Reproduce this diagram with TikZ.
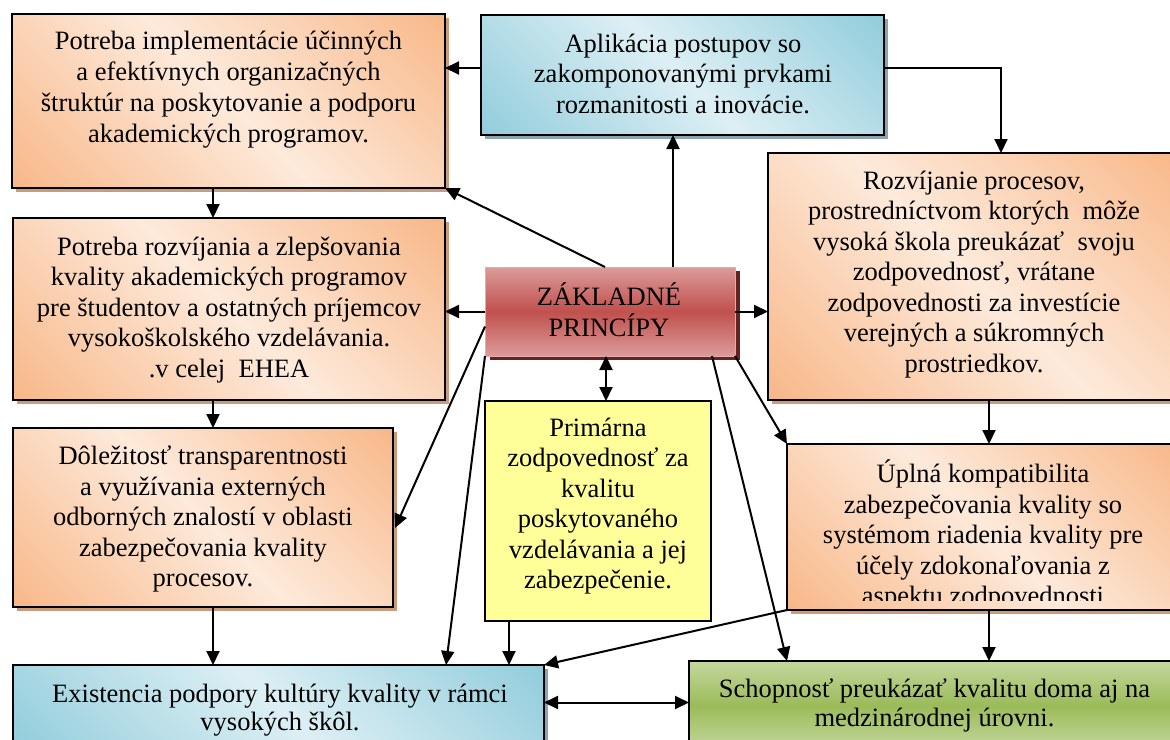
\documentclass[tikz,border=0pt]{standalone}
\usepackage{fontspec}
\setmainfont{Liberation Serif}
\usetikzlibrary{arrows.meta,shadows,calc}

% fill colours
\definecolor{orD}{HTML}{F8B889}
\definecolor{orL}{HTML}{FDEADB}
\definecolor{orS}{HTML}{C99C7E}
\definecolor{blD}{HTML}{92CDDC}
\definecolor{blL}{HTML}{DDEFF4}
\definecolor{blS}{HTML}{8AA5AF}
\definecolor{rdD}{HTML}{C0504D}
\definecolor{rdL}{HTML}{DB9C9A}
\definecolor{rdB}{HTML}{E3ABAA}
\definecolor{rdS}{HTML}{652324}
\definecolor{grD}{HTML}{9BBB59}
\definecolor{grL}{HTML}{C4D79E}
\definecolor{yl}{HTML}{FFFF99}

% diagonal two-sided gradients and horizontal bands
\pgfdeclarehorizontalshading{orDiag}{100bp}{color(0bp)=(orD); color(15bp)=(orD); color(50bp)=(orL); color(85bp)=(orD); color(100bp)=(orD)}
\pgfdeclarehorizontalshading{blDiag}{100bp}{color(0bp)=(blD); color(15bp)=(blD); color(50bp)=(blL); color(85bp)=(blD); color(100bp)=(blD)}
\pgfdeclareverticalshading{rdBand}{100bp}{color(0bp)=(rdL); color(25bp)=(rdL); color(50bp)=(rdD); color(75bp)=(rdL); color(100bp)=(rdL)}
\pgfdeclareverticalshading{grBand}{100bp}{color(0bp)=(grL); color(25bp)=(grL); color(50bp)=(grD); color(75bp)=(grL); color(100bp)=(grL)}

\begin{document}
\begin{tikzpicture}[x=1bp, y=-1bp,
  box/.style={rectangle, inner sep=0, outer sep=0, anchor=north west, line width=2.4bp, draw=black},
  orbox/.style={box, shade, shading=orDiag, shading angle=45,
    drop shadow={shadow xshift=4bp, shadow yshift=-4bp, fill=orS, opacity=1}},
  blbox/.style={box, shade, shading=blDiag, shading angle=45,
    drop shadow={shadow xshift=4bp, shadow yshift=-4bp, fill=blS, opacity=1}},
  rdbox/.style={box, line width=1bp, draw=rdB, shade, shading=rdBand,
    drop shadow={shadow xshift=5bp, shadow yshift=-4bp, fill=rdS, opacity=1}},
  ylbox/.style={box, fill=yl},
  grbox/.style={box, shade, shading=grBand},
  txt/.style={inner sep=0, outer sep=0, anchor=north, align=center,
    font=\fontsize{26.5bp}{30.5bp}\selectfont, execute at begin node=\rule{0pt}{24bp}},
  txta/.style={txt, font=\fontsize{26.5bp}{31bp}\selectfont},
  txtb/.style={txt, font=\fontsize{26.5bp}{28.3bp}\selectfont},
  arr/.style={line width=2bp, -{Triangle[length=14bp,width=13bp]}},
  darr/.style={line width=2bp, {Triangle[length=14bp,width=13bp]}-{Triangle[length=14bp,width=13bp]}}
]
\useasboundingbox (0,0) rectangle (1170,740);
\clip (0,0) rectangle (1170,740);

% boxes
\node[orbox, minimum width=433bp, minimum height=174bp] (a1) at (12,14) {};
\node[blbox, minimum width=403bp, minimum height=120bp] (apl) at (481,15) {};
\node[orbox, minimum width=432bp, minimum height=182bp] (a2) at (13,218) {};
\node[rdbox, minimum width=250bp, minimum height=89bp] (zp) at (485,267) {};
\node[orbox, minimum width=412bp, minimum height=247bp] (r1) at (768,153) {};
\node[orbox, minimum width=380bp, minimum height=179bp] (a3) at (13,428) {};
\node[ylbox, minimum width=226bp, minimum height=220bp] (prim) at (485,401) {};
\node[orbox, minimum width=393bp, minimum height=166bp] (r2) at (787,444) {};
\node[blbox, minimum width=531bp, minimum height=85bp] (b1) at (13,665) {};
\node[grbox, minimum width=491bp, minimum height=89bp] (b2) at (689,661) {};

% texts
\node[txta] (a1t) at (228.5,31) {Potreba implementácie účinných\\ a efektívnych organizačných\\ štruktúr na poskytovanie a podporu\\ akademických programov.};
\node[txt] (aplt) at (683,34) {Aplikácia postupov so\\ zakomponovanými prvkami\\ rozmanitosti a inovácie.};
\node[txt] (a2t) at (229,237) {Potreba rozvíjania a zlepšovania\\ kvality akademických programov\\ pre študentov a ostatných príjemcov\\ vysokoškolského vzdelávania.\\ .v celej~ EHEA};
\node[txt] (zpt) at (609,283) {ZÁKLADNÉ\\ PRINCÍPY};
\node[txt] (r1t) at (974,171) {Rozvíjanie procesov,\\ prostredníctvom ktorých~ môže\\ vysoká škola preukázať~ svoju\\ zodpovednosť, vrátane\\ zodpovednosti za investície\\ verejných a súkromných\\ prostriedkov.};
\node[txt] (a3t) at (203,446) {Dôležitosť transparentnosti\\ a využívania externých\\ odborných znalostí v oblasti\\ zabezpečovania kvality\\ procesov.};
\node[txt] (primt) at (598,418) {Primárna\\ zodpovednosť za\\ kvalitu\\ poskytovaného\\ vzdelávania a jej\\ zabezpečenie.};
\begin{scope}
  \clip (r2.north west) rectangle ($(r2.south east)+(0,-10)$);
  \node[txt] (r2t) at (983,460) {Úplná kompatibilita\\ zabezpečovania kvality so\\ systémom riadenia kvality pre\\ účely zdokonaľovania z\\ aspektu zodpovednosti};
\end{scope}
\node[txtb] (b1t) at (280,684) {Existencia podpory kultúry kvality v rámci\\ vysokých škôl.};
\node[txtb] (b2t) at (934.5,679) {Schopnosť preukázať kvalitu doma aj na\\ medzinárodnej úrovni.};

% connectors
\draw[arr] ([yshift=7bp]apl.west) -- ([yshift=7bp]apl.west -| a1.east);
\draw[arr] ([yshift=7bp]apl.east) -| ([xshift=233bp]r1.north west);
\draw[arr] ([xshift=201bp]a1.south west) -- ([xshift=201bp]a1.south west |- a2.north);
\draw[arr] ([xshift=200bp]a2.south west) -- ([xshift=200bp]a2.south west |- a3.north);
\draw[arr] ([xshift=200bp]a3.south west) -- ([xshift=200bp]a3.south west |- b1.north);
\draw[arr] ([xshift=-5bp]zp.north) -- (a1.south east);
\draw[arr] ([xshift=188bp]zp.north west) -- ([xshift=188bp]zp.north west |- apl.south);
\draw[arr] (zp.west) -- (zp.west -| a2.east);
\draw[arr] (zp.east) -- (zp.east -| r1.west);
\draw[darr] ([xshift=-4bp]zp.south) -- ([xshift=-4bp]zp.south |- prim.north);
\draw[arr] ([yshift=-15bp]zp.west) -- ($(a3.north east)+(2,100)$);
\draw[arr] (zp.south west) -- ($(b1.north west)+(433,0)$);
\draw[arr] ([xshift=24bp]prim.south west) -- ([xshift=24bp]prim.south west |- b1.north);
\draw[arr] (r2.south west) -- (b1.north east);
\draw[arr] ([xshift=-23bp]zp.south east) -- ($(b2.north west)+(98,0)$);
\draw[arr] (zp.south east) -- (r2.north west);
\draw[arr] ([xshift=221bp]r1.south west) -- ([xshift=221bp]r1.south west |- r2.north);
\draw[arr] ([xshift=202bp]r2.south west) -- ([xshift=202bp]r2.south west |- b2.north);
\draw[darr] ([yshift=5bp]b1.east) -- ([yshift=5bp]b1.east -| b2.west);
\end{tikzpicture}
\end{document}
